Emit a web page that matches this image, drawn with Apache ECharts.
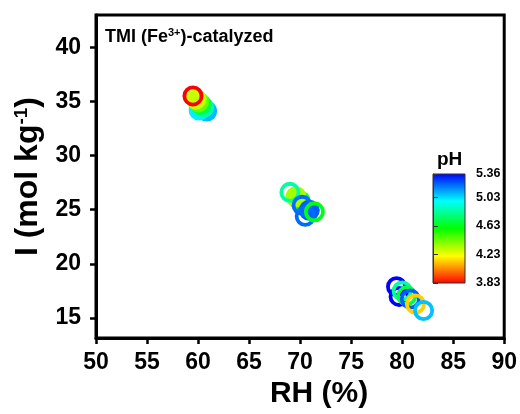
<!DOCTYPE html>
<html><head><meta charset="utf-8">
<script src="https://cdn.jsdelivr.net/npm/echarts@6/dist/echarts.min.js"></script>
<style>html,body{margin:0;padding:0;background:#fff}#c{width:520px;height:414px}</style>
</head><body><div id="c"></div>
<script>
// ---- data ----
const xTicks = [50, 55, 60, 65, 70, 75, 80, 85, 90];
const yTicks = [15, 20, 25, 30, 35, 40];
const phTicks = [3.83, 4.23, 4.63, 5.03, 5.36];
// [RH (%), I (mol/kg), pH]
const filledPoints = [
  [60.85, 34.10, 5.08],
  [60.10, 34.20, 5.00],
  [60.55, 34.45, 4.85],
  [60.30, 34.70, 4.70],
  [60.05, 34.95, 4.45],
  [59.80, 35.20, 4.30],
  [70.00, 25.80, 4.63],
  [69.60, 26.20, 4.35],
  [70.90, 24.95, 5.22]
];
const ringPoints = [
  [59.50, 35.50, 3.83],
  [69.00, 26.60, 4.83],
  [70.20, 25.40, 5.20],
  [70.50, 24.40, 5.20],
  [71.40, 24.80, 4.63],
  [79.45, 17.90, 5.36],
  [79.70, 17.00, 5.36],
  [80.00, 17.50, 4.83],
  [80.45, 17.05, 4.70],
  [80.80, 16.75, 5.22],
  [81.30, 16.30, 4.14],
  [82.10, 15.70, 5.07]
];
const jetColors = ['#ff0000','#ff8000','#ffff00','#80ff00','#00ff00','#00ff80','#00ffff','#0080ff','#0000ff'];

const FONT = 'Liberation Sans, Arial, sans-serif';
const ringSymbol = 'path://M10 0A10 10 0 1 1 10 20A10 10 0 1 1 10 0ZM10 3.6A6.4 6.4 0 1 0 10 16.4A6.4 6.4 0 1 0 10 3.6Z';

const chart = echarts.init(document.getElementById('c'));
const gradStops = jetColors.slice().reverse().map((c, i) => ({offset: i / (jetColors.length - 1), color: c}));

chart.setOption({
  animation: false,
  backgroundColor: '#fff',
  title: [
    {
      left: 100, top: 22,
      text: '{a|TMI (Fe}{s|3+}{a|)-catalyzed}',
      textStyle: {
        rich: {
          a: {fontFamily: FONT, fontWeight: 'bold', fontSize: 18, color: '#000', verticalAlign: 'bottom'},
          s: {fontFamily: FONT, fontWeight: 'bold', fontSize: 11, color: '#000', verticalAlign: 'bottom', padding: [0, 0, 8, 0]}
        }
      }
    },
    {
      left: 432, top: 145, text: 'pH',
      textStyle: {fontFamily: FONT, fontWeight: 'bold', fontSize: 19, color: '#000'}
    }
  ],
  grid: [
    {left: 96, right: 14, top: 15, bottom: 71, show: true, borderColor: '#000', borderWidth: 3, backgroundColor: 'transparent'},
    {left: 433, top: 174, width: 32, height: 109, show: true, borderColor: '#333', borderWidth: 1,
     backgroundColor: new echarts.graphic.LinearGradient(0, 0, 0, 1, gradStops)}
  ],
  xAxis: [
    {
      type: 'value', gridIndex: 0, min: 50, max: 90, interval: 5,
      name: 'RH (%)', nameLocation: 'middle', nameGap: 37,
      nameTextStyle: {fontFamily: FONT, fontWeight: 'bold', fontSize: 30, color: '#000', padding: [0, 0, 0, 38]},
      axisLine: {show: true, onZero: false, lineStyle: {color: '#000', width: 3}},
      axisTick: {show: true, inside: false, length: 6, lineStyle: {color: '#000', width: 2.5}},
      axisLabel: {fontFamily: FONT, fontWeight: 'bold', fontSize: 23, color: '#000', margin: 13,
        customValues: xTicks},
      splitLine: {show: false}
    },
    {type: 'value', gridIndex: 1, min: 0, max: 1, show: false}
  ],
  yAxis: [
    {
      type: 'value', gridIndex: 0, min: 13.15, max: 42.97,
      name: '{a|I (mol kg}{s|-1}{a|)}', nameLocation: 'middle', nameGap: 52, nameRotate: 90,
      nameTextStyle: {
        rich: {
          a: {fontFamily: FONT, fontWeight: 'bold', fontSize: 32, color: '#000', verticalAlign: 'bottom'},
          s: {fontFamily: FONT, fontWeight: 'bold', fontSize: 19, color: '#000', verticalAlign: 'bottom', padding: [0, 0, 13, 0]}
        }
      },
      axisLine: {show: true, onZero: false, lineStyle: {color: '#000', width: 3}},
      axisTick: {show: true, inside: false, length: 6, lineStyle: {color: '#000', width: 2.5}, customValues: yTicks},
      axisLabel: {fontFamily: FONT, fontWeight: 'bold', fontSize: 23, color: '#000', margin: 15, customValues: yTicks},
      splitLine: {show: false}
    },
    {
      type: 'value', gridIndex: 1, min: 3.83, max: 5.36, position: 'right',
      axisLine: {show: true, lineStyle: {color: '#333', width: 1}},
      axisTick: {show: true, length: 5, lineStyle: {color: '#333', width: 1}, customValues: phTicks},
      axisLabel: {fontFamily: FONT, fontWeight: 'bold', fontSize: 12.5, color: '#000', margin: 11,
        customValues: phTicks, formatter: v => v.toFixed(2)},
      splitLine: {show: false}
    }
  ],
  visualMap: {
    show: false, type: 'continuous', min: 3.83, max: 5.36, dimension: 2,
    seriesIndex: [0, 1], inRange: {color: jetColors}
  },
  series: [
    {type: 'scatter', xAxisIndex: 0, yAxisIndex: 0, symbol: 'circle', symbolSize: 21,
     data: filledPoints, itemStyle: {opacity: 1}},
    {type: 'scatter', xAxisIndex: 0, yAxisIndex: 0, symbol: ringSymbol, symbolSize: 21,
     data: ringPoints, itemStyle: {opacity: 1}}
  ]
});
</script></body></html>
